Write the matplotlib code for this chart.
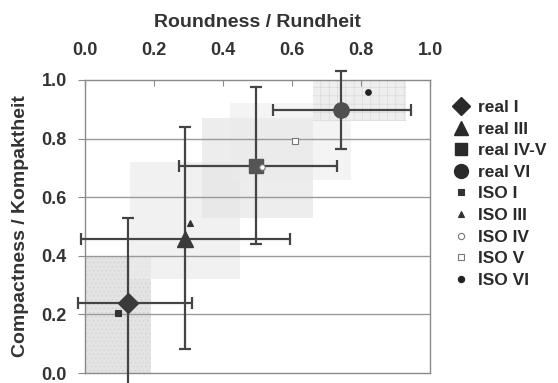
import matplotlib
matplotlib.use("Agg")
import matplotlib.pyplot as plt
from matplotlib.patches import Rectangle
from matplotlib.lines import Line2D
import numpy as np

plt.rcParams['font.family'] = ['Liberation Sans', 'DejaVu Sans']
plt.rcParams['hatch.linewidth'] = 0.4

# --- data ---
real_labels = ["real I", "real III", "real IV-V", "real VI"]
real_x = [0.124, 0.290, 0.497, 0.742]
real_y = [0.238, 0.456, 0.706, 0.898]
real_xlo = [-0.020, -0.012, 0.272, 0.544]
real_xhi = [0.309, 0.594, 0.729, 0.944]
real_ylo = [-0.100, 0.081, 0.440, 0.764]
real_yhi = [0.530, 0.839, 0.975, 1.030]

iso_labels = ["ISO I", "ISO III", "ISO IV", "ISO V", "ISO VI"]
iso_x = [0.097, 0.304, 0.512, 0.610, 0.821]
iso_y = [0.204, 0.513, 0.702, 0.792, 0.959]

# ISO ranges (shaded boxes)
iso_x0 = [0.00, 0.13, 0.34, 0.42, 0.66]
iso_x1 = [0.19, 0.45, 0.66, 0.77, 0.93]
iso_y0 = [0.00, 0.32, 0.53, 0.66, 0.86]
iso_y1 = [0.40, 0.72, 0.87, 0.92, 1.00]

x_ticks = [0.0, 0.2, 0.4, 0.6, 0.8, 1.0]
y_ticks = [0.0, 0.2, 0.4, 0.6, 0.8, 1.0]

# --- styles ---
real_markers = ["D", "^", "s", "o"]
real_ms = [10, 11, 10, 11]
real_colors = ["#3a3a3a", "#3a3a3a", "#555555", "#505050"]
iso_markers = ["s", "^", "o", "s", "o"]
iso_face = ["#333333", "#333333", "white", "white", "#222222"]
iso_edge = ["#333333", "#333333", "#777777", "#777777", "#222222"]
box_colors = ["#dcdcdc", "#ececec", "#e2e2e2", "#ebebeb", "#eaeaea"]
box_alpha = [0.8, 0.7, 0.6, 0.55, 0.8]
box_hatch = ["....", None, None, None, "++"]

fig = plt.figure(figsize=(5.58, 3.83), dpi=100)
ax = fig.add_axes([85/558, 1-373/383, 345/558, 293/383])
ax.set_xlim(0, 1)
ax.set_ylim(0, 1)

for x0, x1, y0, y1, c, a, h in zip(iso_x0, iso_x1, iso_y0, iso_y1, box_colors, box_alpha, box_hatch):
    ax.add_patch(Rectangle((x0, y0), x1 - x0, y1 - y0, facecolor=c, alpha=a,
                           edgecolor="#cfcfcf" if h else "none", hatch=h, linewidth=0, zorder=1))

for yv in y_ticks[1:-1]:
    ax.axhline(yv, color="#9a9a9a", lw=1.0, zorder=2)

for i in range(len(real_x)):
    xe = [[real_x[i] - real_xlo[i]], [real_xhi[i] - real_x[i]]]
    ye = [[real_y[i] - real_ylo[i]], [real_yhi[i] - real_y[i]]]
    eb = ax.errorbar([real_x[i]], [real_y[i]], xerr=xe, yerr=ye, fmt="none",
                     ecolor="#444444", elinewidth=1.6, capsize=4.5, capthick=1.6, zorder=3)
    for art in list(eb.lines[1]) + list(eb.lines[2]):
        art.set_clip_on(False)
    ax.plot(real_x[i], real_y[i], marker=real_markers[i], ms=real_ms[i], color=real_colors[i],
            ls="none", zorder=4, clip_on=False)

for i in range(len(iso_x)):
    ax.plot(iso_x[i], iso_y[i], marker=iso_markers[i], ms=4, markerfacecolor=iso_face[i],
            markeredgecolor=iso_edge[i], markeredgewidth=0.8, ls="none", zorder=5)

for s in ax.spines.values():
    s.set_color("#8a8a8a")
    s.set_linewidth(1.0)

ax.xaxis.tick_top()
ax.xaxis.set_label_position("top")
ax.set_xticks(x_ticks)
ax.set_xticklabels([f"{v:.1f}" for v in x_ticks])
ax.set_yticks(y_ticks)
ax.set_yticklabels([f"{v:.1f}" for v in y_ticks])
ax.tick_params(axis="x", direction="in", length=4, color="#8a8a8a", pad=15,
               labelsize=13, labelcolor="#333333")
ax.tick_params(axis="y", direction="out", length=5, color="#8a8a8a", pad=8,
               labelsize=13, labelcolor="#333333")
for lab in ax.get_xticklabels() + ax.get_yticklabels():
    lab.set_fontweight("bold")

ax.set_xlabel("Roundness / Rundheit", fontsize=14, fontweight="bold", color="#333333", labelpad=11)
ax.set_ylabel("Compactness / Kompaktheit", fontsize=14, fontweight="bold", color="#333333", labelpad=9)

handles = []
for i in range(len(real_labels)):
    handles.append(Line2D([], [], marker=real_markers[i], ms=real_ms[i] - 1, color="#2a2a2a", ls="none"))
for i in range(len(iso_labels)):
    handles.append(Line2D([], [], marker=iso_markers[i], ms=4.5, markerfacecolor=iso_face[i],
                          markeredgecolor=iso_edge[i], markeredgewidth=0.8, ls="none"))
leg = fig.legend(handles, real_labels + iso_labels, loc="upper left",
                 bbox_to_anchor=(455/558, 1-100/383), frameon=False,
                 prop={"weight": "bold", "size": 12.5}, handlelength=0.7, handletextpad=0.6,
                 labelspacing=0.37, borderaxespad=0, borderpad=0)
for t in leg.get_texts():
    t.set_color("#2a2a2a")

fig.savefig("out.png", dpi=100)
